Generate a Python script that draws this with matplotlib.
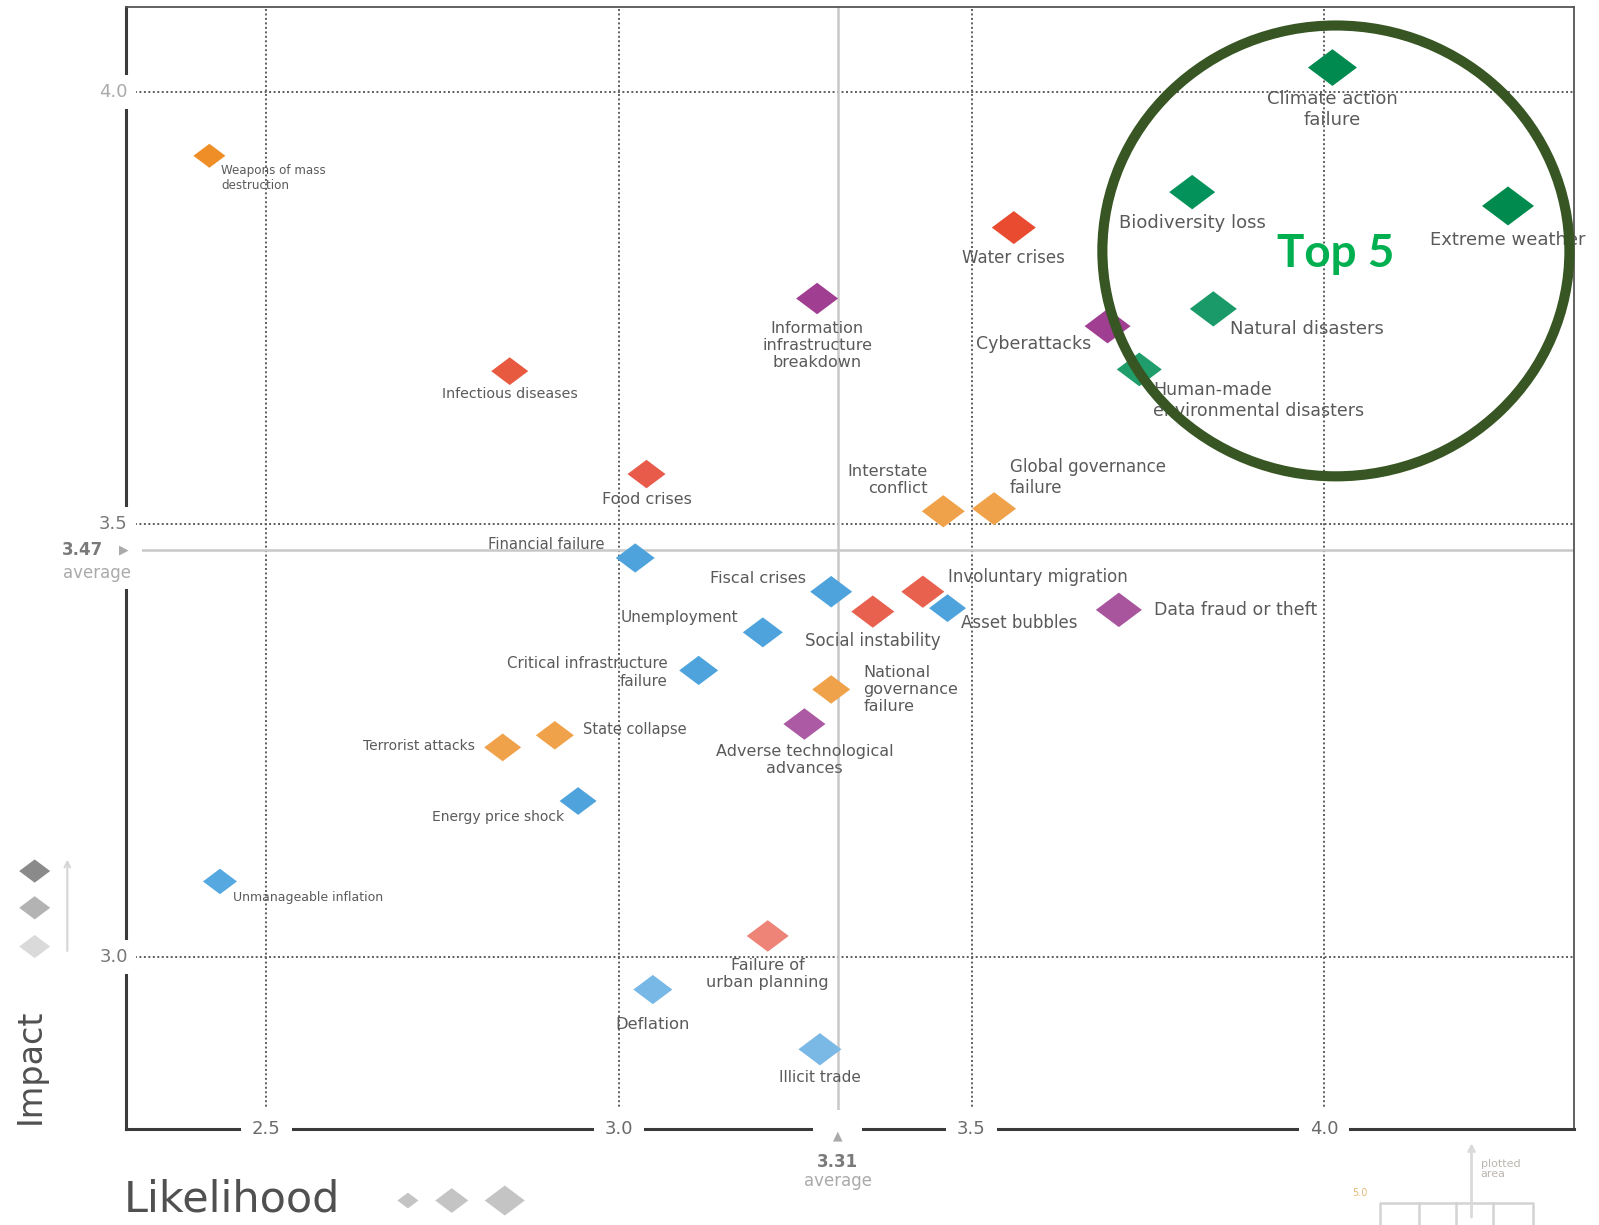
import matplotlib.pyplot as plt
import matplotlib.transforms as mtransforms
from matplotlib.patches import Ellipse, Rectangle

# global risks: likelihood vs impact
risks = ['Weapons of mass destruction', 'Climate action failure', 'Biodiversity loss',
         'Extreme weather', 'Natural disasters', 'Human-made environmental disasters',
         'Cyberattacks', 'Water crises', 'Information infrastructure breakdown',
         'Infectious diseases', 'Food crises', 'Interstate conflict',
         'Global governance failure', 'Financial failure', 'Fiscal crises',
         'Involuntary migration', 'Social instability', 'Asset bubbles',
         'Data fraud or theft', 'Unemployment', 'Critical infrastructure failure',
         'National governance failure', 'Adverse technological advances',
         'State collapse', 'Terrorist attacks', 'Energy price shock',
         'Unmanageable inflation', 'Failure of urban planning', 'Deflation', 'Illicit trade']
labels = ['Weapons of mass\ndestruction', 'Climate action\nfailure', 'Biodiversity loss',
          'Extreme weather', 'Natural disasters', 'Human-made\nenvironmental disasters',
          'Cyberattacks', 'Water crises', 'Information\ninfrastructure\nbreakdown',
          'Infectious diseases', 'Food crises', 'Interstate\nconflict',
          'Global governance\nfailure', 'Financial failure', 'Fiscal crises',
          'Involuntary migration', 'Social instability', 'Asset bubbles',
          'Data fraud or theft', 'Unemployment', 'Critical infrastructure\nfailure',
          'National\ngovernance\nfailure', 'Adverse technological\nadvances',
          'State collapse', 'Terrorist attacks', 'Energy price shock',
          'Unmanageable inflation', 'Failure of\nurban planning', 'Deflation', 'Illicit trade']
likelihood = [2.419, 4.012, 3.813, 4.261, 3.843, 3.738,
              3.693, 3.560, 3.281, 2.845, 3.039, 3.460,
              3.532, 3.023, 3.301, 3.431, 3.360, 3.466,
              3.709, 3.204, 3.113, 3.301, 3.263, 2.909,
              2.835, 2.942, 2.434, 3.211, 3.048, 3.285]
impact = [3.926, 4.028, 3.884, 3.868, 3.749, 3.679,
          3.729, 3.843, 3.761, 3.677, 3.558, 3.515,
          3.518, 3.461, 3.422, 3.422, 3.399, 3.403,
          3.401, 3.375, 3.331, 3.309, 3.269, 3.256,
          3.242, 3.180, 3.087, 3.024, 2.962, 2.893]
colors = ['#ef8e26', '#008a50', '#03935a', '#008a4e', '#1a9a68', '#1f9e6c',
          '#a03f91', '#e84b30', '#a03f91', '#e85a40', '#e85a4a', '#f0a24a',
          '#f0a24a', '#4ea3dc', '#4ea3dc', '#e8604e', '#e8604e', '#4ea3dc',
          '#a8559e', '#4ea3dc', '#4ea3dc', '#f0a24a', '#ab5aa3', '#f0a24a',
          '#f0a24a', '#4ea3dc', '#55a8e0', '#ee8478', '#78b8e6', '#7ab8e6']
# diamond width in pixels
marker_px = [32, 49, 46, 52, 47, 45,
             46, 44, 42, 37, 38, 43,
             44, 39, 42, 43, 43, 37,
             46, 40, 39, 38, 42, 38,
             37, 37, 34, 42, 39, 43]

avg_likelihood = 3.31
avg_impact = 3.47
x_ticks = [2.5, 3.0, 3.5, 4.0]
y_ticks = [3.0, 3.5, 4.0]

# label offsets in pixels (dx, dy up), alignment, font size
place = [(12, -22, 'left', 8.6), (0, -42, 'center', 13), (0, -31, 'center', 13),
         (0, -34, 'center', 13), (17, -20, 'left', 13), (14, -31, 'left', 12.5),
         (-16, -18, 'right', 12.5), (0, -30, 'center', 12), (0, -47, 'center', 11.5),
         (0, -23, 'center', 10.3), (0, -25, 'center', 11.5), (-16, 31, 'right', 11.8),
         (16, 31, 'left', 12), (-31, 13, 'right', 10.6), (-25, 13, 'right', 11.6),
         (25, 15, 'left', 12), (0, -29, 'center', 12), (13, -15, 'left', 12),
         (35, 0, 'left', 12.5), (-25, 15, 'right', 11), (-31, -2, 'right', 10.8),
         (32, 0, 'left', 11.5), (0, -36, 'center', 11.5), (28, 6, 'left', 10.5),
         (-28, 1, 'right', 10), (-14, -16, 'right', 10), (13, -16, 'left', 9),
         (0, -38, 'center', 11.5), (0, -35, 'center', 11.8), (0, -28, 'center', 11)]

diamond = [(-1, 0), (0, 0.75), (1, 0), (0, -0.75)]
txt = '#5a5a5a'

fig = plt.figure(figsize=(15.99, 12.25), dpi=100)
ax = fig.add_axes([0.0791, 0.0783, 0.9050, 0.9159])
ax.set_xlim(2.3014, 4.354)
ax.set_ylim(2.8007, 4.0979)
ax.set_xticks([])
ax.set_yticks([])
for s in ['left', 'bottom']:
    ax.spines[s].set_color('#3a3a3a')
    ax.spines[s].set_linewidth(2.2)
for s in ['top', 'right']:
    ax.spines[s].set_color('#555555')
    ax.spines[s].set_linewidth(1.3)

dot = (0, (1, 1.3))
for x in x_ticks:
    ax.axvline(x, color='#5e5e5e', lw=1.4, ls=dot, zorder=1)
for y in y_ticks:
    ax.axhline(y, color='#5e5e5e', lw=1.4, ls=dot, zorder=1)
ax.axvline(avg_likelihood, color='#c8c8c8', lw=1.8, zorder=1)
ax.axhline(avg_impact, color='#c8c8c8', lw=1.8, zorder=1)

sizes = [(w * 0.72) ** 2 for w in marker_px]
ax.scatter(likelihood, impact, s=sizes, c=colors, marker=diamond, linewidths=0, zorder=4)

for lab, x, y, (dx, dy, ha, fs) in zip(labels, likelihood, impact, place):
    ax.annotate(lab, xy=(x, y), xytext=(dx, dy), textcoords='offset pixels',
                ha=ha, va='center', multialignment=ha, fontsize=fs, color=txt,
                zorder=5, annotation_clip=False)

ycoords = ('axes fraction', 'data')
xcoords = ('data', 'axes fraction')

# white patch that breaks the left axis line at the average
ytrans = mtransforms.blended_transform_factory(ax.transAxes, ax.transData)
ax.add_patch(Rectangle((-0.015, avg_impact - 0.045), 0.026, 0.06, transform=ytrans,
                       fc='white', ec='none', zorder=6, clip_on=False))

# averages
ax.annotate('\u25B6', xy=(0, avg_impact), xycoords=ycoords, xytext=(-3, 0),
            textcoords='offset pixels', ha='center', va='center', fontsize=9,
            color='#aaaaaa', zorder=8)
ax.annotate('average', xy=(0, avg_impact), xycoords=ycoords, xytext=(-29, -23),
            textcoords='offset pixels', ha='center', va='center', fontsize=12,
            color='#aaaaaa', zorder=8)
ax.annotate(f'{avg_impact:.2f}', xy=(0, avg_impact), xycoords=ycoords, xytext=(-23, 0),
            textcoords='offset pixels', ha='right', va='center', fontsize=12,
            color='#7a7a7a', fontweight='bold', zorder=8)
ax.annotate('\u25B2', xy=(avg_likelihood, 0), xycoords=xcoords,
            xytext=(0, -7), textcoords='offset pixels', ha='center', va='center',
            fontsize=9, color='#aaaaaa', zorder=6,
            bbox=dict(boxstyle='square,pad=1.6', fc='white', ec='none'))
ax.annotate(f'{avg_likelihood:.2f}', xy=(avg_likelihood, 0), xycoords=xcoords,
            xytext=(0, -33), textcoords='offset pixels', ha='center', va='center',
            fontsize=12, color='#7a7a7a', fontweight='bold', zorder=6)
ax.annotate('average', xy=(avg_likelihood, 0), xycoords=xcoords,
            xytext=(0, -52), textcoords='offset pixels', ha='center', va='center',
            fontsize=12, color='#aaaaaa', zorder=6)

# tick labels sitting on the axis lines
box = dict(boxstyle='square,pad=0.6', fc='white', ec='none')
for x in x_ticks:
    ax.annotate(f'{x:.1f}', xy=(x, 0), xycoords=xcoords,
                ha='center', va='center', fontsize=13, color='#6a6a6a', bbox=box, zorder=7)
for y in y_ticks:
    ax.annotate(f'{y:.1f}', xy=(0, y), xycoords=ycoords,
                xytext=(-13, 0), textcoords='offset pixels', ha='center', va='center',
                fontsize=13, color='#aaaaaa' if y == 4.0 else '#777777',
                bbox=dict(boxstyle='square,pad=0.45', fc='white', ec='none'), zorder=7)

# overlay in picture pixels for legend bits and the highlight circle
ov = fig.add_axes([0, 0, 1, 1], zorder=10)
ov.set_xlim(0, 1568)
ov.set_ylim(1201, 0)
ov.axis('off')
ov.patch.set_visible(False)

ov.text(30, 1045, 'Impact', rotation=90, ha='center', va='center', fontsize=24, color='#505050')
ov.text(227, 1176, 'Likelihood', ha='center', va='center', fontsize=31, color='#505050')
ov.scatter([34, 34, 34], [854, 890, 928], s=(31 * 0.72) ** 2, marker=diamond,
           c=['#8a8a8a', '#b3b3b3', '#dadada'], linewidths=0)
ov.annotate('', xy=(66, 840), xytext=(66, 935),
            arrowprops=dict(arrowstyle='->', color='#d5d5d5', lw=1.5))
ov.scatter([400, 443, 495], [1177, 1177, 1177], s=[(w * 0.72) ** 2 for w in (21, 33, 40)],
           marker=diamond, c='#c4c4c4', linewidths=0)

# "plotted area" inset
ov.plot([1353, 1353, 1503, 1503], [1201, 1179, 1179, 1201], color='#d3d3d3', lw=1.8)
for xv in (1391, 1428, 1464):
    ov.plot([xv, xv], [1179, 1201], color='#d3d3d3', lw=1.8)
ov.annotate('', xy=(1443, 1118), xytext=(1443, 1196),
            arrowprops=dict(arrowstyle='->', color='#dadada', lw=2))
ov.text(1452, 1146, 'plotted\narea', ha='left', va='center', fontsize=8, color='#bdb6b0',
        linespacing=1.1)
ov.text(1334, 1170, '5.0', ha='center', va='center', fontsize=7, color='#e8b878')

# top 5 highlight
ov.add_patch(Ellipse((1310, 246), 458, 442, fill=False, ec='#375623', lw=7.3))
ov.text(1310, 249, 'Top 5', ha='center', va='center', fontsize=33, fontweight='bold',
        color='#00b050', family='Lato')

fig.savefig('out.png', dpi=100)
